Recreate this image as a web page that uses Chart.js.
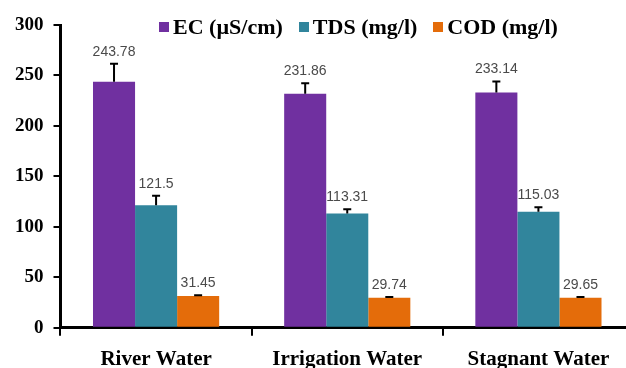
<!DOCTYPE html>
<html>
<head>
<meta charset="utf-8">
<script src="https://cdn.jsdelivr.net/npm/chart.js@4.4.0/dist/chart.umd.min.js"></script>
<style>
  html, body { margin: 0; padding: 0; background: #fff; overflow: hidden; }
  #wrap { position: relative; width: 636px; height: 368px; }
  #legend {
    position: absolute; left: 159px; top: 16px;
    display: flex; align-items: center;
    font: bold 22px "Liberation Serif", "Times New Roman", serif;
    line-height: 22px; color: #000; white-space: nowrap;
  }
  #legend .item { display: flex; align-items: center; margin-right: 16px; }
  #legend .box { width: 10px; height: 10px; margin-right: 4px; }
</style>
</head>
<body>
<div id="wrap">
  <canvas id="chart" width="636" height="368"></canvas>
  <div id="legend"></div>
</div>
<script>
// Data
const categories = ["River Water", "Irrigation Water", "Stagnant Water"];
const seriesNames = ["EC (\u00b5S/cm)", "TDS (mg/l)", "COD (mg/l)"];
const seriesColors = ["#7030A0", "#31859C", "#E46C0A"];
const ecValues = [243.78, 231.86, 233.14];
const tdsValues = [121.5, 113.31, 115.03];
const codValues = [31.45, 29.74, 29.65];
const ecErrors = [17.8, 10.5, 10.9];
const tdsErrors = [9.3, 4.2, 4.5];
const codErrors = [0.8, 0.8, 0.8];
const yTicks = [0, 50, 100, 150, 200, 250, 300];

const allValues = [ecValues, tdsValues, codValues];
const allErrors = [ecErrors, tdsErrors, codErrors];

// Error bars (upper only) and value labels above them
const errorBarPlugin = {
  id: "errorBars",
  afterDatasetsDraw(chart) {
    const ctx = chart.ctx;
    const y = chart.scales.y;
    chart.data.datasets.forEach((ds, di) => {
      const meta = chart.getDatasetMeta(di);
      meta.data.forEach((bar, i) => {
        const v = ds.data[i];
        const err = allErrors[di][i];
        const yTop = y.getPixelForValue(v + err);
        const yVal = y.getPixelForValue(v);
        ctx.save();
        ctx.strokeStyle = "#000";
        ctx.lineWidth = 2;
        ctx.beginPath();
        ctx.moveTo(bar.x, yVal);
        ctx.lineTo(bar.x, yTop);
        ctx.moveTo(bar.x - 4, yTop);
        ctx.lineTo(bar.x + 4, yTop);
        ctx.stroke();
        ctx.fillStyle = "#4a4a4a";
        ctx.font = '14px "Liberation Sans Narrow", "Liberation Sans", Arial, sans-serif';
        ctx.textAlign = "center";
        ctx.textBaseline = "alphabetic";
        ctx.fillText(String(v), bar.x, yTop - 8);
        ctx.restore();
      });
    });
  }
};

const chart = new Chart(document.getElementById("chart"), {
  type: "bar",
  data: {
    labels: categories,
    datasets: seriesNames.map((name, i) => ({
      label: name,
      data: allValues[i],
      backgroundColor: seriesColors[i],
      borderWidth: 0,
      categoryPercentage: 0.66,
      barPercentage: 1.0
    }))
  },
  options: {
    responsive: false,
    animation: false,
    layout: { padding: { left: 5, top: 25, right: 2, bottom: -15 } },
    plugins: {
      legend: { display: false },
      tooltip: { enabled: false }
    },
    scales: {
      x: {
        border: { color: "#000", width: 3 },
        grid: { drawOnChartArea: false, color: "#000", lineWidth: 2, tickLength: 8, offset: true },
        ticks: {
          color: "#000",
          padding: 11,
          font: { family: '"Liberation Serif", "Times New Roman", serif', size: 21, weight: "bold" }
        }
      },
      y: {
        min: 0,
        max: 300,
        afterBuildTicks: axis => { axis.ticks = yTicks.map(v => ({ value: v })); },
        border: { color: "#000", width: 3 },
        grid: { drawOnChartArea: false, color: "#000", lineWidth: 2, tickLength: 7 },
        ticks: {
          color: "#000",
          padding: 10,
          font: { family: '"Liberation Serif", "Times New Roman", serif', size: 19, weight: "bold" }
        }
      }
    }
  },
  plugins: [errorBarPlugin]
});

// HTML legend built from the datasets
const legend = document.getElementById("legend");
chart.data.datasets.forEach(ds => {
  const item = document.createElement("div");
  item.className = "item";
  const box = document.createElement("span");
  box.className = "box";
  box.style.background = ds.backgroundColor;
  const txt = document.createElement("span");
  txt.textContent = ds.label;
  item.appendChild(box);
  item.appendChild(txt);
  legend.appendChild(item);
});
</script>
</body>
</html>
